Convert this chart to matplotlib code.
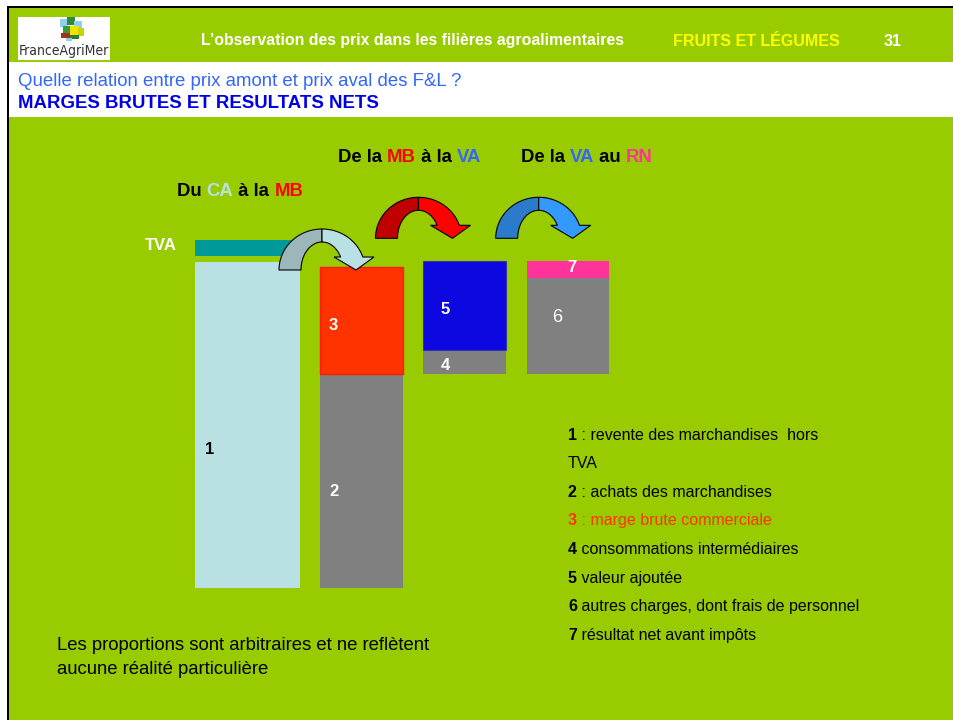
import numpy as np
import matplotlib
matplotlib.use("Agg")
import matplotlib.pyplot as plt
from matplotlib.patches import Rectangle, Polygon

plt.rcParams['font.family'] = ['Liberation Sans', 'DejaVu Sans']

# ---------------- data (arbitrary units, revente = 100) ----------------
categories = ["CA", "MB", "VA", "RN"]
revente = 100.0        # 1 : revente des marchandises HT
tva = 5.1              # TVA
achats = 65.6          # 2 : achats des marchandises
marge = 32.8           # 3 : marge brute commerciale
conso_inter = 7.4      # 4 : consommations intermédiaires
valeur_ajoutee = 27.2  # 5 : valeur ajoutée
autres_charges = 29.4  # 6 : autres charges
resultat_net = 5.2     # 7 : résultat net avant impôts

legend_lines = [
    ("1", " : revente des marchandises  hors"),
    ("", "TVA"),
    ("2", " : achats des marchandises"),
    ("3", " : marge brute commerciale"),
    ("4", " consommations intermédiaires"),
    ("5", " valeur ajoutée"),
    ("6", " autres charges, dont frais de personnel"),
    ("7", " résultat net avant impôts"),
]

# ---------------- colours ----------------
GREEN = "#99CC00"
TEAL = "#009999"
LIGHTBLUE = "#B9E0E3"
RED = "#FF3300"
GREY = "#808080"
BLUE = "#0D07E0"
PINK = "#FF3399"
TXTBLUE = "#3366FF"

W, H = 954, 720
fig = plt.figure(figsize=(W / 100, H / 100), dpi=100)
fig.patch.set_facecolor(GREEN)

# background / decoration axes in pixel coordinates
bg = fig.add_axes([0, 0, 1, 1], zorder=0)
bg.set_xlim(0, W); bg.set_ylim(H, 0); bg.axis("off")

# slide border + green
bg.add_patch(Rectangle((0, 0), W + 20, 6, facecolor="white", edgecolor="none", clip_on=False))
bg.add_patch(Rectangle((0, 0), 7, H + 20, facecolor="white", edgecolor="none", clip_on=False))
bg.add_patch(Rectangle((7, 6), 2, H + 20, facecolor="black", edgecolor="none", clip_on=False))
bg.add_patch(Rectangle((7, 6), W + 20, 2, facecolor="black", edgecolor="none", clip_on=False))
bg.add_patch(Rectangle((9, 62), W + 20, 55, facecolor="white", edgecolor="none", clip_on=False))

# logo
bg.add_patch(Rectangle((18, 17), 92, 43, facecolor="white", edgecolor="none"))
logo_blocks = [
    (60, 19, 8, 8, "#8FD0EE"), (67, 17, 8, 8, "#2E8B3A"), (74, 21, 8, 7, "#8FD0EE"),
    (63, 26, 8, 7, "#3A9A3A"), (70, 26, 9, 10, "#F2E200"), (78, 28, 6, 8, "#C8D400"),
    (61, 33, 9, 5, "#A8321E"), (70, 35, 9, 4, "#2E7D32"), (66, 38, 6, 3, "#8FD0EE"),
]
for x, y, w, h, c in logo_blocks:
    bg.add_patch(Rectangle((x, y), w, h, facecolor=c, edgecolor="none"))
bg.text(64, 51, "FranceAgriMer", color="#333333", fontsize=10, ha="center", va="center",
        family=["DejaVu Sans"], stretch="condensed")

# header texts
bg.text(201, 41, "L\u2019observation des prix dans les filières agroalimentaires", color="white",
        fontsize=11.4, fontweight="bold", ha="left", va="center")
bg.text(673, 41, "FRUITS ET LÉGUMES", color="#FFFF00", fontsize=11.5, fontweight="bold",
        ha="left", va="center")
bg.text(884, 41, "31", color="white", fontsize=11.5, fontweight="bold", ha="left", va="center")
bg.text(18, 82, "Quelle relation entre prix amont et prix aval des F&L ?", color=TXTBLUE,
        fontsize=13.4, ha="left", va="center")
bg.text(18, 103, "MARGES BRUTES ET RESULTATS NETS", color="#0000E6", fontsize=13.4,
        fontweight="bold", ha="left", va="center")

# ---------------- bars ----------------
PX_PER_UNIT = 3.26
BASE_PX = 588
YMAX = 130
bx = fig.add_axes([0, (H - BASE_PX) / H, 1, YMAX * PX_PER_UNIT / H], zorder=1)
bx.set_xlim(0, W); bx.set_ylim(0, YMAX); bx.axis("off"); bx.patch.set_alpha(0)

BAR_X = [247.5, 361.5, 464.2, 568.0]
BAR_W = [105, 83, 83, 82]
TVA_GAP = 1.8

# column 1 : CA
bx.bar(BAR_X[0], revente, width=BAR_W[0], color=LIGHTBLUE, edgecolor="none")
bx.bar(BAR_X[0], tva, bottom=revente + TVA_GAP, width=BAR_W[0], color=TEAL, edgecolor="none")
# column 2 : achats + marge
bx.bar(BAR_X[1], achats, width=BAR_W[1], color=GREY, edgecolor="none")
bx.bar(BAR_X[1], marge, bottom=achats, width=BAR_W[1], color=RED, edgecolor="#FF1A00", linewidth=1)
# column 3 : CI + VA
bx.bar(BAR_X[2], conso_inter, bottom=achats, width=BAR_W[2], color=GREY, edgecolor="none")
bx.bar(BAR_X[2], valeur_ajoutee, bottom=achats + conso_inter, width=BAR_W[2], color=BLUE,
       edgecolor="#3333AA", linewidth=0.8)
# column 4 : autres charges + RN
bx.bar(BAR_X[3], autres_charges, bottom=achats, width=BAR_W[3], color=GREY, edgecolor="none")
bx.bar(BAR_X[3], resultat_net, bottom=achats + autres_charges, width=BAR_W[3], color=PINK,
       edgecolor="none")

# ---------------- overlay (arrows, labels) ----------------
ov = fig.add_axes([0, 0, 1, 1], zorder=2)
ov.set_xlim(0, W); ov.set_ylim(H, 0); ov.axis("off"); ov.patch.set_alpha(0)


def curved_arrow(ax, cx, cy, dark, light):
    rox, roy, rix, riy = 43, 41, 21, 28
    hy = cy - 13
    t_o = np.arcsin(13 / roy)
    t_i = np.arcsin(13 / riy)
    a = np.linspace(np.pi, np.pi / 2, 40)
    left = np.vstack([
        np.column_stack([cx + rox * np.cos(a), cy - roy * np.sin(a)]),
        np.column_stack([cx + rix * np.cos(a[::-1]), cy - riy * np.sin(a[::-1])]),
    ])
    ao = np.linspace(np.pi / 2, t_o, 40)
    ai = np.linspace(t_i, np.pi / 2, 40)
    right = np.vstack([
        np.column_stack([cx + rox * np.cos(ao), cy - roy * np.sin(ao)]),
        [[cx + 52, hy], [cx + 34, cy], [cx + 12, hy]],
        np.column_stack([cx + rix * np.cos(ai), cy - riy * np.sin(ai)]),
    ])
    ax.add_patch(Polygon(left, closed=True, facecolor=dark, edgecolor="black", linewidth=0.8))
    ax.add_patch(Polygon(right, closed=True, facecolor=light, edgecolor="black", linewidth=0.8))


curved_arrow(ov, 322, 270, "#9BB7B9", LIGHTBLUE)
curved_arrow(ov, 418.5, 238.3, "#C00000", "#FF0000")
curved_arrow(ov, 538.7, 238.3, "#2B7BCB", "#3399FF")


def multicolor(ax, x, y, parts, size=13.3):
    fig.canvas.draw()
    r = fig.canvas.get_renderer()
    for s, c in parts:
        t = ax.text(x, y, s, color=c, fontsize=size, fontweight="bold", ha="left", va="center")
        bb = t.get_window_extent(renderer=r)
        x += bb.width * (W / fig.bbox.width)


multicolor(ov, 338, 158, [("De la ", "black"), ("MB", "#FF0000"), (" à la ", "black"), ("VA", TXTBLUE)])
multicolor(ov, 521, 158, [("De la ", "black"), ("VA", TXTBLUE), (" au ", "black"), ("RN", PINK)])
multicolor(ov, 177, 191, [("Du ", "black"), ("CA", LIGHTBLUE), (" à la ", "black"), ("MB", "#FF0000")])

ov.text(145, 246, "TVA", color="white", fontsize=12, fontweight="bold", ha="left", va="center")

# numbers inside the bars
num_labels = [
    (205, 450, "1", "black", "bold"),
    (329, 491, "2", "white", "bold"),
    (329, 326, "3", "white", "bold"),
    (441, 366, "4", "white", "bold"),
    (441, 310, "5", "white", "bold"),
    (557, 317, "6", "white", "normal"),
    (572, 267, "7", "white", "bold"),
]
for x, y, s, c, fw in num_labels:
    ov.text(x, y, s, color=c, fontsize=12 if s != "6" else 13, fontweight=fw,
            ha="center" if s in "67" else "left", va="center")

# legend
fig.canvas.draw()
rend = fig.canvas.get_renderer()
ly = 435
for num, txt in legend_lines:
    col = RED if num == "3" else "black"
    x = 568
    if num:
        t = ov.text(x, ly, num, color=col, fontsize=11.5, fontweight="bold", ha="left", va="center")
        x += t.get_window_extent(renderer=rend).width * (W / fig.bbox.width)
    ov.text(x, ly, txt, color=col, fontsize=11.5, ha="left", va="center")
    ly += 28.6

ov.text(57, 646, "Les proportions sont arbitraires et ne reflètent", color="black", fontsize=13.35,
        ha="left", va="center")
ov.text(57, 669, "aucune réalité particulière", color="black", fontsize=13.35, ha="left", va="center")

fig.savefig("out.png", dpi=100, facecolor=fig.get_facecolor())
